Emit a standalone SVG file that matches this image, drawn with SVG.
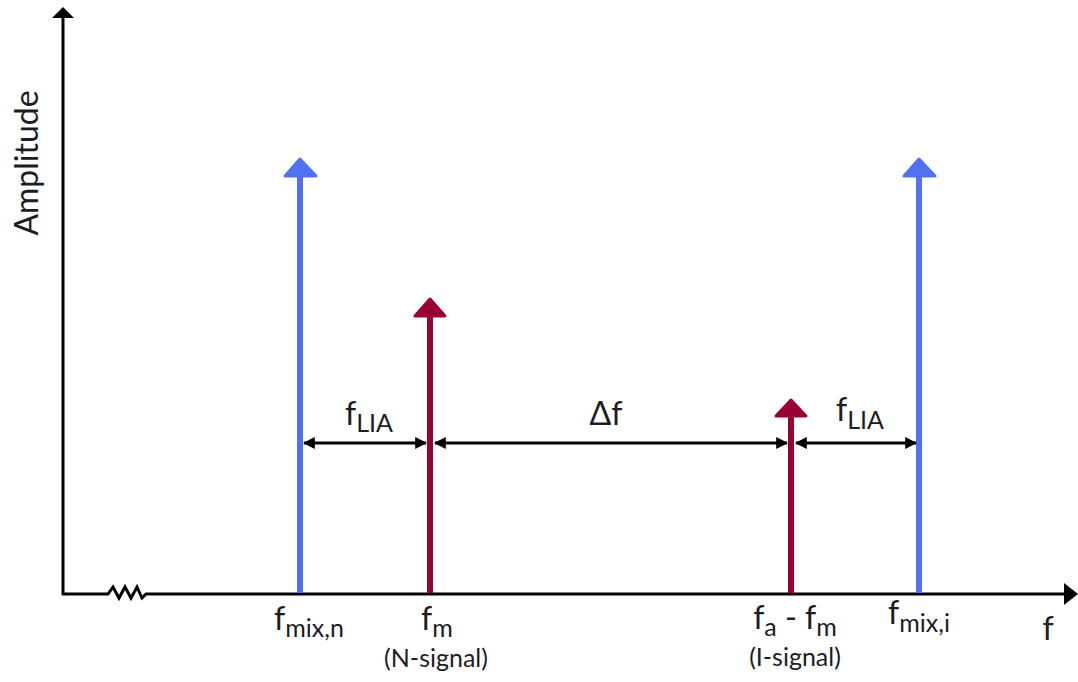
<svg xmlns="http://www.w3.org/2000/svg" width="1078" height="682" viewBox="0 0 1078 682">
<defs>
<style>
.t{font-family:Lato,"Open Sans","Liberation Sans",sans-serif;fill:#1c1c24;font-size:32px}
.s{font-size:25px}
.n{font-size:25px}
.ax{stroke:#000;stroke-width:3;fill:none}
.dim{stroke:#000;stroke-width:3;fill:none;marker-start:url(#ah);marker-end:url(#ah)}
.blue{stroke:#5271F2;stroke-width:6}
.red{stroke:#990033;stroke-width:6}
</style>
<marker id="ah" viewBox="0 0 10 10" refX="9" refY="5" markerWidth="4" markerHeight="4.5" orient="auto-start-reverse" markerUnits="strokeWidth">
<path d="M0,0 L10,5 L0,10 z" fill="#000"/>
</marker>
</defs>
<rect width="1078" height="682" fill="#fff"/>
<g id="axes">
<line class="ax" x1="63" y1="595" x2="63" y2="18"/>
<path d="M52,18 L63,7 L74,18 z" fill="#000"/>
<polyline class="ax" points="62,594 108,594 113,587 119,598 125,587 131,598 137,587 142,598 146,594 1066,594"/>
<path d="M1064,583 L1078,594 L1064,605 z" fill="#000"/>
<text class="t" transform="translate(38,163) rotate(-90)" text-anchor="middle" font-size="38">Amplitude</text>
<text class="t" x="1048" y="640" text-anchor="middle">f</text>
</g>
<g id="mix-n">
<line class="blue" x1="300" y1="593" x2="300" y2="175"/>
<path d="M285,176 L300,159 L316,176 z" fill="#5271F2" stroke="#5271F2" stroke-width="3" stroke-linejoin="round"/>
<text class="t" x="309" y="630" text-anchor="middle">f<tspan class="s" dy="7">mix,n</tspan></text>
</g>
<g id="fm">
<line class="red" x1="430" y1="593" x2="430" y2="316"/>
<path d="M415,316 L430,299 L445,316 z" fill="#990033" stroke="#990033" stroke-width="3" stroke-linejoin="round"/>
<text class="t" x="437" y="630" text-anchor="middle">f<tspan class="s" dy="7">m</tspan></text>
<text class="t n" x="436" y="667" text-anchor="middle">(N-signal)</text>
</g>
<g id="fa-fm">
<line class="red" x1="791" y1="593" x2="791" y2="416"/>
<path d="M776,416 L791,400 L806,416 z" fill="#990033" stroke="#990033" stroke-width="3" stroke-linejoin="round"/>
<text class="t" x="795" y="629" text-anchor="middle">f<tspan class="s" dy="7">a</tspan><tspan dy="-7"> - f</tspan><tspan class="s" dy="7">m</tspan></text>
<text class="t n" x="795" y="666" text-anchor="middle">(I-signal)</text>
</g>
<g id="mix-i">
<line class="blue" x1="919" y1="593" x2="919" y2="175"/>
<path d="M904,176 L919,159 L935,176 z" fill="#5271F2" stroke="#5271F2" stroke-width="3" stroke-linejoin="round"/>
<text class="t" x="919" y="624" text-anchor="middle">f<tspan class="s" dy="8">mix,i</tspan></text>
</g>
<g id="connectors">
<line class="dim" x1="304" y1="443" x2="426" y2="443"/>
<line class="dim" x1="435" y1="443" x2="787" y2="443"/>
<line class="dim" x1="796" y1="443" x2="916" y2="443"/>
<text class="t" x="369" y="425" text-anchor="middle">f<tspan class="s" dy="7">LIA</tspan></text>
<text class="t" x="606" y="425" text-anchor="middle">Δf</text>
<text class="t" x="860" y="421" text-anchor="middle">f<tspan class="s" dy="8">LIA</tspan></text>
</g>
</svg>
